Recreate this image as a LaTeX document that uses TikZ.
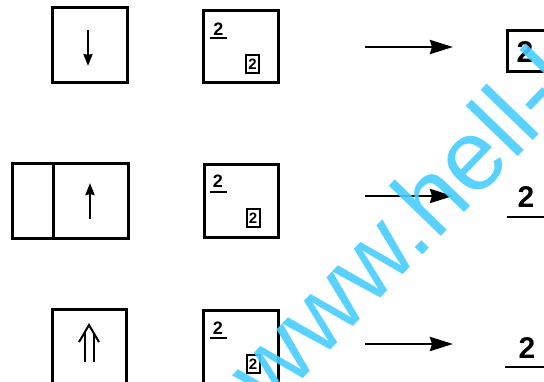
\documentclass[tikz,border=0pt]{standalone}
\usepackage{fontspec}
\setmainfont{Liberation Sans}
\newfontfamily\wmfont{Liberation Sans}
\usetikzlibrary{arrows.meta}
\definecolor{wmcyan}{RGB}{72,206,255}
\tikzset{
  frame/.style={draw, line width=3pt, inner sep=0pt, minimum width=#1},
  frame/.default=75pt,
  tagbox/.style={draw, line width=2pt, inner sep=0pt, minimum width=13pt, minimum height=18pt, font=\bfseries\fontsize{15}{15}\selectfont},
  digit/.style={inner sep=0pt, font=\bfseries\fontsize{18}{18}\selectfont},
  bigdigit/.style={inner sep=0pt, font=\bfseries\fontsize{30}{30}\selectfont},
  uline/.style={line width=2.4pt},
  mapto/.style={line width=2.8pt, -{Stealth[length=23pt,width=14pt,inset=2pt]}},
  dirarrow/.style={line width=2.4pt, -{Stealth[length=12pt,width=9pt,inset=1pt]}},
  watermark/.style={inner sep=0pt, text=wmcyan, opacity=0.9, font=\wmfont\fontsize{100}{100}\selectfont}
}
\begin{document}
\begin{tikzpicture}[x=1pt,y=-1pt]
\clip (0,0) rectangle (544,381);
\fill[white] (0,0) rectangle (544,381);

% row 1: single step down
\node[frame, minimum height=75pt] (a1) at (90,44.5) {};
\draw[dirarrow] (88,30) -- (88,66);
\node[frame, minimum height=72pt] (b1) at (240.5,46) {};
\node[digit] (u1) at (218.5,29) {2};
\draw[uline] (210,38) -- (227,38);
\node[tagbox] (t1) at (252.5,64) {2};
\node[frame=40pt, minimum height=41pt] (r1) at (527,50.5) {};
\node[bigdigit] (d1) at (525,52) {2};
\coordinate (s1) at (365,47);
\coordinate (e1) at (453,47);
\draw[mapto] (s1) -- (e1);

% row 2: split box, single step up
\node[frame=41pt, minimum height=75pt] (a2l) at (32.5,200.5) {};
\node[frame, minimum height=75pt] (a2r) at (90.5,200.5) {};
\draw[dirarrow] (90,219) -- (90,183);
\node[frame=74pt, minimum height=73pt] (b2) at (241,200.5) {};
\node[digit] (u2) at (218,181) {2};
\draw[uline] (210,192) -- (227,192);
\node[tagbox] (t2) at (253,218) {2};
\node[bigdigit] (d2) at (526,197) {2};
\draw[uline] (507,217) -- (548,217);
\coordinate (s2) at (365,196);
\coordinate (e2) at (453,196);
\draw[mapto] (s2) -- (e2);

% row 3: double step up
\node[frame=74pt, minimum height=75pt] (a3) at (89,346.5) {};
\draw[line width=2pt] (84.5,362) -- (84.5,333);
\draw[line width=2pt] (93.5,362) -- (93.5,333);
\draw[line width=2pt, line join=miter] (79,342) -- (89,325) -- (99,342);
\node[frame, minimum height=75pt] (b3) at (240.5,347.5) {};
\node[digit] (u3) at (218,328) {2};
\draw[uline] (210,338) -- (227,338);
\node[tagbox] (t3) at (253,364) {2};
\node[bigdigit] (d3) at (527,348) {2};
\draw[uline] (505,367) -- (548,367);
\coordinate (s3) at (365,344);
\coordinate (e3) at (453,344);
\draw[mapto] (s3) -- (e3);

% overprinted web address
\node[watermark, rotate=46, anchor=base west] (wm) at (270,413) {www.hell-l};
\end{tikzpicture}
\end{document}
